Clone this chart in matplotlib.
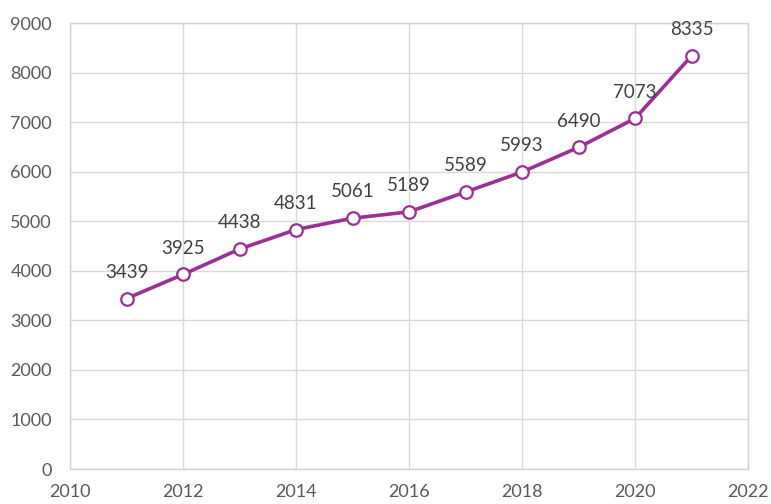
import matplotlib
matplotlib.use("Agg")
import matplotlib.pyplot as plt

years = [2011, 2012, 2013, 2014, 2015, 2016, 2017, 2018, 2019, 2020, 2021]
values = [3439, 3925, 4438, 4831, 5061, 5189, 5589, 5993, 6490, 7073, 8335]
x_ticks = [2010, 2012, 2014, 2016, 2018, 2020, 2022]
y_ticks = [0, 1000, 2000, 3000, 4000, 5000, 6000, 7000, 8000, 9000]

plt.rcParams['font.family'] = ['Lato', 'DejaVu Sans']

fig = plt.figure(figsize=(7.71, 5.04), dpi=100)
ax = fig.add_axes([70/771, 1-469/504, (748-70)/771, (469-23)/504])

color = '#9b2f94'
ax.plot(years, values, color=color, lw=2.6, marker='o', ms=9,
        markerfacecolor='white', markeredgecolor=color, markeredgewidth=1.6, zorder=3)
for x, y in zip(years, values):
    ax.annotate(str(y), (x, y), xytext=(0, 15), textcoords='offset points',
                ha='center', va='baseline', fontsize=13.5, color='#404040')

ax.set_xlim(2010, 2022)
ax.set_ylim(0, 9000)
ax.set_xticks(x_ticks)
ax.set_yticks(y_ticks)
ax.grid(True, color='#d9d9d9', lw=1.0)
ax.set_axisbelow(True)
for s in ax.spines.values():
    s.set_color('#d0d0d0')
    s.set_linewidth(1.0)
ax.tick_params(length=0, labelsize=13, labelcolor='#595959')
ax.tick_params(axis='x', pad=11)
ax.tick_params(axis='y', pad=13)

fig.savefig('out.png', dpi=100)
